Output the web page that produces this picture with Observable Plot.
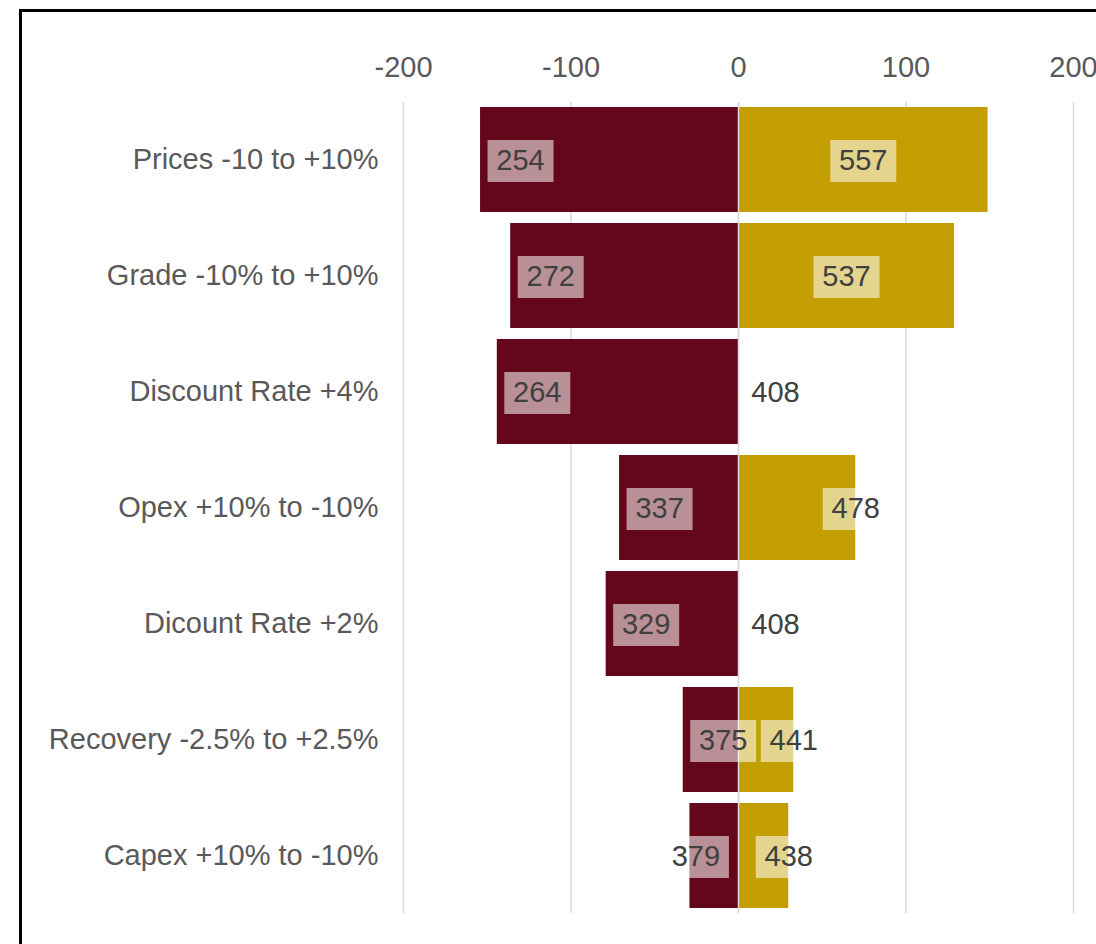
<!DOCTYPE html>
<html>
<head>
<meta charset="utf-8">
<script src="https://cdn.jsdelivr.net/npm/d3@7"></script>
<script src="https://cdn.jsdelivr.net/npm/@observablehq/plot@0.6"></script>
<style>
  html, body { margin: 0; padding: 0; background: #fff; overflow: hidden; }
  #wrap { position: relative; width: 1096px; height: 944px; }
  #frame { position: absolute; left: 19px; top: 9px; width: 2000px; height: 2000px; border: 3px solid #000; box-sizing: border-box; pointer-events: none; }
  #chart { position: absolute; left: 0; top: 0; }
</style>
</head>
<body>
<div id="wrap"><div id="chart"></div><div id="frame"></div></div>
<script>
// ---- data ----
const categories = [
  "Prices -10 to +10%",
  "Grade -10% to +10%",
  "Discount Rate +4%",
  "Opex +10% to -10%",
  "Dicount Rate +2%",
  "Recovery -2.5% to +2.5%",
  "Capex +10% to -10%"
];
const lowValues  = [254, 272, 264, 337, 329, 375, 379];
const highValues = [557, 537, 408, 478, 408, 441, 438];
const baseValue = 408;
const xTicks = [-200, -100, 0, 100, 200];

// ---- derived table ----
const rows = categories.map((c, i) => ({
  cat: c,
  low: lowValues[i],
  high: highValues[i],
  dLow: lowValues[i] - baseValue,
  dHigh: highValues[i] - baseValue
}));

// label placement rules (Excel-like): low labels at the inside end
// (very short bars: centred on the end), wide high bars centred,
// narrow high bars at the end, empty bars outside
const lowInside = rows.filter(d => d.dLow <= -30).map(d => ({cat: d.cat, x: d.dLow, text: String(d.low)}));
const lowShort = rows.filter(d => d.dLow > -30).map(d => ({cat: d.cat, x: d.dLow, text: String(d.low)}));
const highCentre = rows.filter(d => d.dHigh >= 100).map(d => ({cat: d.cat, x: d.dHigh / 2, text: String(d.high)}));
const highEnd = rows.filter(d => d.dHigh > 0 && d.dHigh < 100).map(d => ({cat: d.cat, x: d.dHigh, text: String(d.high)}));
const highOutside = rows.filter(d => d.dHigh <= 0).map(d => ({cat: d.cat, x: 0, text: String(d.high)}));

const boxSymbol = { draw(ctx) { ctx.rect(-33, -21, 66, 42); } };

const RED = "#65071b", GOLD = "#c49f04", GRID = "#d9d9d9";
const FONT = "'Liberation Sans', Arial, sans-serif";
const FS = 29;

function labelMarks(data, dx) {
  return [
    Plot.dot(data, { x: "x", y: "cat", dx, dy: 1, symbol: boxSymbol, fill: "white", fillOpacity: 0.55, stroke: null }),
    Plot.text(data, { x: "x", y: "cat", dx, dy: 1, text: "text", fontSize: FS, fill: "#404040", textAnchor: "middle" })
  ];
}

const chart = Plot.plot({
  width: 1096,
  height: 944,
  marginLeft: 403,
  marginRight: 23,
  marginTop: 102,
  marginBottom: 31,
  style: { fontFamily: FONT, color: "#595959", background: "transparent", overflow: "visible" },
  x: { domain: [-200, 200], ticks: xTicks },
  y: { domain: categories, paddingInner: 0.095, paddingOuter: 0.04, label: null },
  marks: [
    Plot.gridX(xTicks, { stroke: GRID, strokeOpacity: 1, strokeWidth: 1.5 }),
    Plot.barX(rows, { y: "cat", x1: 0, x2: "dLow", fill: RED }),
    Plot.barX(rows, { y: "cat", x1: 0, x2: "dHigh", fill: GOLD }),
    Plot.ruleX([0], { stroke: GRID, strokeWidth: 1.5 }),
    ...labelMarks(lowInside, 40),
    ...labelMarks(lowShort, 6),
    ...labelMarks(highCentre, 0),
    ...labelMarks(highEnd, 0),
    ...labelMarks(highOutside, 37),
    Plot.axisX({ anchor: "top", ticks: xTicks, tickFormat: d => String(d), tickSize: 0, tickPadding: 26, fontSize: FS, label: null }),
    Plot.axisY({ tickSize: 0, tickPadding: 25, fontSize: FS, label: null })
  ]
});
document.getElementById("chart").appendChild(chart);
</script>
</body>
</html>
